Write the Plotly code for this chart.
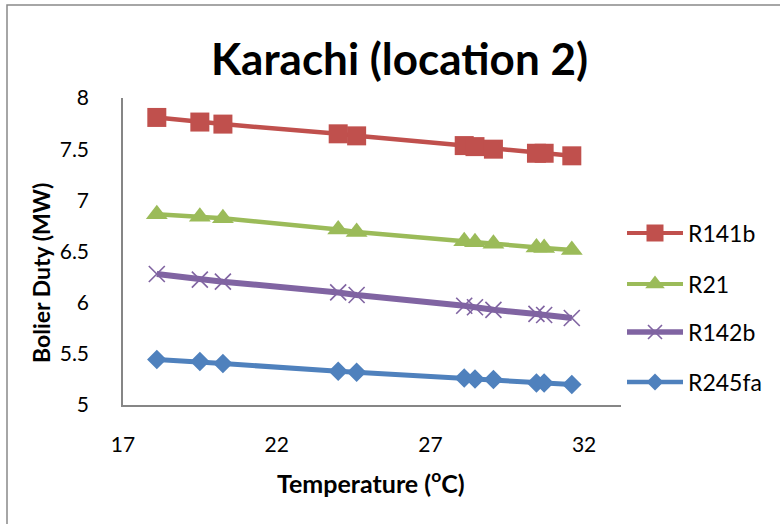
import plotly.graph_objects as go

# Ambient temperature (°C) for each operating point
temperature = [18.1, 19.5, 20.25, 24.0, 24.6, 28.1, 28.45, 29.05, 30.45, 30.7, 31.6]

# Boiler duty (MW) for each working fluid
r141b = [7.81, 7.765, 7.745, 7.65, 7.63, 7.535, 7.525, 7.50, 7.46, 7.46, 7.435]
r21 = [6.865, 6.84, 6.825, 6.715, 6.69, 6.60, 6.59, 6.575, 6.54, 6.535, 6.515]
r142b = [6.28, 6.225, 6.205, 6.10, 6.075, 5.97, 5.955, 5.93, 5.89, 5.88, 5.85]
r245fa = [5.445, 5.425, 5.405, 5.33, 5.32, 5.265, 5.255, 5.25, 5.215, 5.215, 5.20]

x_ticks = [17, 22, 27, 32]
y_ticks = [5, 5.5, 6, 6.5, 7, 7.5, 8]

FONT = "Lato"
W, H = 780, 524
L, T, B = 123, 98, 119          # plot margins (px)
PLOT_RIGHT = 621                # right end of the x axis (px)
DOM = (PLOT_RIGHT - L) / (W - L)

# name, values, colour, marker symbol, marker size, line width, marker line width
series = [
    ("R141b", r141b, "#C0504D", "square", 19, 4.5, 0),
    ("R21", r21, "#9BBB59", "triangle-up", 19, 4.5, 0),
    ("R142b", r142b, "#8064A2", "x-thin", 16, 6, 1.6),
    ("R245fa", r245fa, "#4F81BD", "diamond", 15, 5, 0),
]

fig = go.Figure()
for name, values, color, symbol, size, lw, mlw in series:
    fig.add_trace(go.Scatter(
        x=temperature, y=values, name=name, showlegend=False,
        mode="lines+markers",
        line=dict(color=color, width=lw),
        marker=dict(symbol=symbol, size=size, color=color,
                    line=dict(color=color, width=mlw)),
    ))

# Hand-drawn legend on a pixel-scaled overlay axis to the right of the plot
legend_y = [233, 284, 332, 382]
for (name, values, color, symbol, size, lw, mlw), ly in zip(series, legend_y):
    fig.add_trace(go.Scatter(
        x=[627, 683], y=[ly, ly], xaxis="x2", yaxis="y2",
        mode="lines", line=dict(color=color, width=lw - 0.5),
        showlegend=False, hoverinfo="skip",
    ))
    fig.add_trace(go.Scatter(
        x=[655], y=[ly], xaxis="x2", yaxis="y2", mode="markers",
        marker=dict(symbol=symbol, size=size - 2, color=color,
                    line=dict(color=color, width=mlw)),
        showlegend=False, hoverinfo="skip",
    ))
    fig.add_annotation(
        text=name, xref="x2", yref="y2", x=686, y=ly,
        xanchor="left", yanchor="middle", showarrow=False,
        font=dict(family=FONT, size=23, color="#000000"),
    )

axis_color = "#868686"
fig.update_layout(
    xaxis=dict(
        domain=[0, DOM], range=[17, 33.2], tickvals=x_ticks,
        ticktext=[str(v) for v in x_ticks],
        showgrid=False, zeroline=False, showline=True, linecolor=axis_color,
        linewidth=1.5, ticks="", ticklabelstandoff=20,
        tickfont=dict(family=FONT, size=21, color="#000000"),
    ),
    yaxis=dict(
        range=[5, 8], tickvals=y_ticks,
        ticktext=["5", "5.5", "6", "6.5", "7", "7.5", "8"],
        showgrid=False, zeroline=False, showline=True, linecolor=axis_color,
        linewidth=1.5, ticks="", ticklabelstandoff=28,
        tickfont=dict(family=FONT, size=21, color="#000000"),
    ),
    xaxis2=dict(domain=[DOM, 1], range=[PLOT_RIGHT, W], visible=False,
                anchor="y2", fixedrange=True),
    yaxis2=dict(domain=[0, 1], range=[H - B, T], visible=False,
                anchor="x2", fixedrange=True),
)

fig.update_layout(
    width=W, height=H,
    margin=dict(l=L, r=0, t=T, b=B),
    paper_bgcolor="white", plot_bgcolor="rgba(0,0,0,0)",
    showlegend=False,
)

pw, ph = W - L, H - T - B


def px(xp):
    return (xp - L) / pw


def py(yp):
    return 1 - (yp - T) / ph


fig.add_annotation(
    text="<b>Karachi (location 2)</b>", xref="paper", yref="paper",
    x=px(399), y=py(58), xanchor="center", yanchor="middle", showarrow=False,
    font=dict(family=FONT, size=44, color="#000000"))
fig.add_annotation(
    text="<b>Temperature (<sup>o</sup>C)</b>", xref="paper", yref="paper",
    x=px(371), y=py(481), xanchor="center", yanchor="middle", showarrow=False,
    font=dict(family=FONT, size=25, color="#000000"))
fig.add_annotation(
    text="<b>Bolier Duty (MW)</b>", xref="paper", yref="paper",
    x=px(41), y=py(273), xanchor="center", yanchor="middle", showarrow=False,
    textangle=-90, font=dict(family=FONT, size=23, color="#000000"))

# Chart-area border
fig.add_shape(
    type="rect", xref="paper", yref="paper",
    x0=px(7), x1=px(W + 40), y0=py(H + 40), y1=py(5),
    line=dict(color="#898989", width=1.5), fillcolor="rgba(0,0,0,0)",
    layer="below")

fig.write_html("out.html")
